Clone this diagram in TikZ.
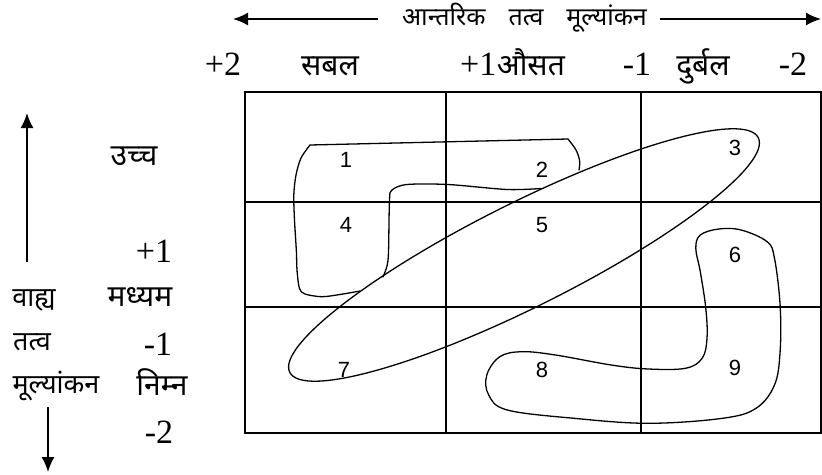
\documentclass[tikz,border=0pt]{standalone}
\usepackage{fontspec}
\setmainfont{Liberation Serif}
\newfontfamily\deva[Script=Devanagari]{Noto Sans}
\newfontfamily\arialf{Liberation Sans}
\usetikzlibrary{arrows.meta}
\tikzset{
  num/.style={font=\fontsize{34}{34}\selectfont, inner sep=0pt, anchor=base},
  dvbig/.style={font=\deva\fontsize{30}{30}\selectfont, inner sep=0pt, anchor=base},
  dvsmall/.style={font=\deva\fontsize{27}{27}\selectfont, inner sep=0pt, anchor=base},
  dvtitle/.style={font=\deva\fontsize{25}{25}\selectfont, inner sep=0pt, anchor=base},
  cell/.style={font=\arialf\fontsize{22}{22}\selectfont, inner sep=0pt},
  gridline/.style={line width=2pt},
  curve/.style={line width=1.3pt, line join=round, line cap=round},
  axarrow/.style={line width=1.8pt, -{Latex[length=15pt,width=13pt]}}
}
\begin{document}
\begin{tikzpicture}[x=1pt,y=-1pt]
\useasboundingbox (0,0) rectangle (822,474);
% grid
\draw[gridline] (245,92) rectangle (821,433);
\draw[gridline] (446,92) -- (446,433);
\draw[gridline] (641,92) -- (641,433);
\draw[gridline] (245,202) -- (821,202);
\draw[gridline] (245,307) -- (821,307);
% top axis
\node[dvtitle] (ttl) at (524.5,25) {आन्तरिक\hspace{23pt}तत्व\hspace{23pt}मूल्यांकन};
\coordinate (tl) at (233,19);
\coordinate (tr) at (821,19);
\coordinate (tlm) at (378,19);
\coordinate (trm) at (660,19);
\draw[axarrow] (tlm) -- (tl);
\draw[axarrow] (trm) -- (tr);
% top row
\node[num] (p2) at (223,75) {+2};
\node[dvbig] (sabal) at (330,75) {सबल};
\node[num, anchor=base west] (p1) at (460,75) {+1};
\node[dvbig, anchor=base west] (ausat) at (p1.base east) {औसत};
\node[num] (m1) at (637,75) {-1};
\node[dvbig] (durbal) at (703,75) {दुर्बल};
\node[num] (m2) at (793,75) {-2};
% left axis
\coordinate (ub) at (27,262);
\coordinate (ut) at (27,113);
\draw[axarrow] (ub) -- (ut);
\coordinate (dt) at (48,407);
\coordinate (db) at (48,472);
\draw[axarrow] (dt) -- (db);
\node[dvbig] (ucch) at (134,165) {उच्च};
\node[num] (lp1) at (154,262) {+1};
\node[dvsmall] (vahya) at (34,306) {वाह्य};
\node[dvbig] (madhyam) at (140,306) {मध्यम};
\node[dvsmall] (tatva) at (32,350) {तत्व};
\node[num] (lm1) at (158,355) {-1};
\node[dvsmall] (mulyankan) at (56,393) {मूल्यांकन};
\node[dvbig] (nimn) at (162,395) {निम्न};
\node[num] (lm2) at (159,443) {-2};
% cell numbers
\node[cell] (c1) at (346,160) {1};
\node[cell] (c2) at (542,170) {2};
\node[cell] (c3) at (735,148) {3};
\node[cell] (c4) at (346,225) {4};
\node[cell] (c5) at (542,225) {5};
\node[cell] (c6) at (735,255) {6};
\node[cell] (c7) at (344,370) {7};
\node[cell] (c8) at (542,370) {8};
\node[cell] (c9) at (735,368) {9};
% ellipse 3-5-7
\draw[curve, rotate around={26.6:(524,255)}] (524,255) ellipse [x radius=262pt, y radius=52pt];
% shape 1-2-4
\draw[curve] (310,145) -- (568,139);
\draw[curve] plot[smooth, tension=0.6] coordinates {(568,139) (576,150) (579.6,161) (579,170)};
\draw[curve] plot[smooth, tension=0.5] coordinates {(541,188.5) (507,189.5) (448,184.5) (407,184.5) (392,190) (389.5,200) (388.5,252) (387,266) (383,277)};
\draw[curve] plot[smooth, tension=0.5] coordinates {(360,291) (340,294.5) (321.7,296.7) (305,294) (299.4,288.3) (297,270) (296.4,251.7) (294.5,220) (293.8,195) (296,175) (301,158) (310,145)};
% shape 6-8-9
\draw[curve] plot[smooth cycle, tension=0.6] coordinates {
 (695.8,248.3) (700.3,235) (718.8,229) (741.1,230) (767.1,241.7) (774.5,258.3)
 (780.1,305) (780.1,351.7) (774.5,385) (756,408.3) (722.5,418.3) (648.3,423.3)
 (574,418.3) (507.3,410) (488.7,395) (486.8,375) (499.8,356.7) (522.1,351.7)
 (555.5,355) (611.2,365) (648.3,369) (685.4,368.3) (702.1,358.3) (707,338.3)
 (705.8,308.3) (700.3,271.7)};
\end{tikzpicture}
\end{document}
